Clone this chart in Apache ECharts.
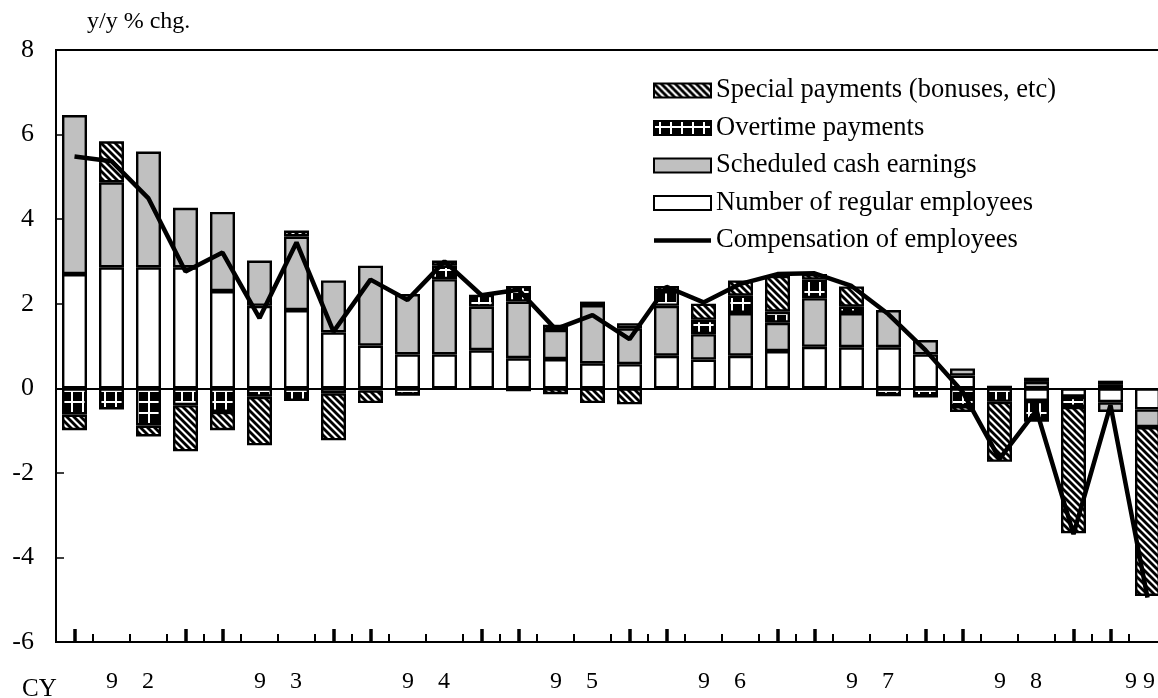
<!DOCTYPE html>
<html>
<head>
<meta charset="utf-8">
<script src="https://cdn.jsdelivr.net/npm/echarts@6/dist/echarts.min.js"></script>
<style>
html, body { margin: 0; padding: 0; background: #fff; }
#chart { width: 1158px; height: 698px; }
</style>
</head>
<body>
<div id="chart"></div>
<script>
// quarters, CY1992 Q1 .. CY1999 Q2
const quarters = ['92Q1', '92Q2', '92Q3', '92Q4', '93Q1', '93Q2', '93Q3', '93Q4',
    '94Q1', '94Q2', '94Q3', '94Q4', '95Q1', '95Q2', '95Q3', '95Q4',
    '96Q1', '96Q2', '96Q3', '96Q4', '97Q1', '97Q2', '97Q3', '97Q4',
    '98Q1', '98Q2', '98Q3', '98Q4', '99Q1', '99Q2'];

const employees = [2.70, 2.86, 2.86, 2.86, 2.30, 1.95, 1.85, 1.32, 1.01, 0.80, 0.80, 0.90, 0.71, 0.69, 0.59,
    0.57, 0.77, 0.68, 0.77, 0.88, 0.98, 0.97, 0.97, 0.80, 0.30, 0.00, -0.30, -0.20, -0.33, -0.50];
const scheduled = [3.76, 2.01, 2.74, 1.41, 1.87, 1.07, 1.74, 1.23, 1.89, 1.43, 1.78, 1.03, 1.34, 0.69, 1.38,
    0.85, 1.18, 0.60, 1.01, 0.67, 1.15, 0.81, 0.88, 0.34, 0.17, 0.06, 0.15, 0.00, -0.23, -0.42];
const overtime = [-0.62, -0.50, -0.88, -0.40, -0.56, -0.20, -0.30, -0.12, -0.05, -0.15, 0.32, 0.28, 0.37, 0.12, 0.08,
    0.12, 0.35, 0.34, 0.41, 0.26, 0.44, 0.15, -0.16, -0.19, -0.42, -0.32, -0.49, -0.24, 0.08, 0.00];
const special = [-0.37, 0.97, -0.26, -1.09, -0.43, -1.15, 0.14, -1.11, -0.30, 0.00, 0.12, -0.03, -0.07, -0.14, -0.35,
    -0.38, 0.12, 0.38, 0.36, 0.85, 0.13, 0.48, 0.00, 0.00, -0.14, -1.42, 0.10, -2.99, 0.10, -3.99];
const compensation = [5.48, 5.37, 4.49, 2.76, 3.21, 1.66, 3.45, 1.34, 2.57, 2.09, 3.00, 2.20, 2.33, 1.40, 1.73,
    1.16, 2.40, 2.03, 2.47, 2.70, 2.72, 2.42, 1.75, 0.90, -0.08, -1.67, -0.52, -3.45, -0.40, -4.95];

// year labels under the axis, placed at the middle of each year's quarters
const yearLabels = ['9    2', '9    3', '9    4', '9    5', '9    6', '9    7', '9    8', '9 9'];
const yearPos = [1.5, 5.5, 9.5, 13.5, 17.5, 21.5, 25.5, 28.8];

const FONT = "'Liberation Serif', 'DejaVu Serif', serif";

function stripes() {
    const s = 7;
    const c = document.createElement('canvas');
    c.width = c.height = s;
    const g = c.getContext('2d');
    g.fillStyle = '#fff';
    g.fillRect(0, 0, s, s);
    g.strokeStyle = '#000';
    g.lineWidth = 2.8;
    for (let k = -1; k <= 1; k++) {
        g.beginPath();
        g.moveTo(k * s - 1, -1);
        g.lineTo(k * s + s + 1, s + 1);
        g.stroke();
    }
    return { image: c, repeat: 'repeat' };
}

function checks() {
    const s = 11;
    const c = document.createElement('canvas');
    c.width = c.height = s;
    const g = c.getContext('2d');
    g.fillStyle = '#000';
    g.fillRect(0, 0, s, s);
    g.fillStyle = '#fff';
    g.fillRect(0, 5, s, 2);
    g.fillRect(5, 0, 2, s);
    return { image: c, repeat: 'repeat' };
}

function barSeries(name, data, color) {
    return {
        name: name,
        type: 'bar',
        stack: 'total',
        barWidth: 25,
        data: data,
        itemStyle: { color: color, borderColor: '#000', borderWidth: 2.4 },
        emphasis: { disabled: true }
    };
}

const chart = echarts.init(document.getElementById('chart'));
chart.setOption({
    animation: false,
    textStyle: { fontFamily: FONT, color: '#000' },
    title: {
        text: 'CY', left: 17, top: 672,
        textStyle: { fontFamily: FONT, fontSize: 25, fontWeight: 'normal', color: '#000' }
    },
    grid: {
        left: 56, top: 50, width: 1110, height: 592,
        outerBoundsMode: 'none', containLabel: false,
        show: true, borderColor: '#000', borderWidth: 2
    },
    legend: {
        orient: 'vertical',
        left: 648,
        top: 72,
        padding: 5,
        itemWidth: 57,
        itemHeight: 14,
        itemGap: 10.5,
        selectedMode: false,
        textStyle: { fontFamily: FONT, fontSize: 26.5, color: '#000' },
        data: [
            { name: 'Special payments (bonuses, etc)', icon: 'rect' },
            { name: 'Overtime payments', icon: 'rect' },
            { name: 'Scheduled cash earnings', icon: 'rect' },
            { name: 'Number of regular employees', icon: 'rect' },
            { name: 'Compensation of employees', icon: 'path://M0,0L57,0L57,4.5L0,4.5Z', itemStyle: { color: '#000', borderWidth: 0 } }
        ]
    },
    xAxis: [
        {   // zero line
            type: 'category', data: quarters, position: 'bottom',
            axisLine: { onZero: true, lineStyle: { color: '#000', width: 2 } },
            axisTick: { show: false }, axisLabel: { show: false }
        },
        {   // bottom frame with small ticks between quarters
            type: 'category', data: quarters, position: 'bottom',
            axisLine: { onZero: false, lineStyle: { color: '#000', width: 2 } },
            axisTick: { show: true, inside: true, interval: 0, length: 8, lineStyle: { color: '#000', width: 2 } },
            axisLabel: { show: false }
        },
        {   // bold ticks at Q1 and Q4
            type: 'category', data: quarters, position: 'bottom',
            axisLine: { show: false, onZero: false },
            axisTick: {
                show: true, inside: true, alignWithLabel: true, length: 13,
                interval: function (i) { return i % 4 === 0 || i % 4 === 3; },
                lineStyle: { color: '#000', width: 3.5 }
            },
            axisLabel: { show: false }
        },
        {   // year labels
            type: 'value', min: -0.5, max: 29.5, position: 'bottom',
            axisLine: { show: false, onZero: false },
            axisTick: { show: false },
            splitLine: { show: false },
            axisLabel: {
                customValues: yearPos,
                margin: 28,
                fontSize: 24,
                fontFamily: FONT,
                color: '#000',
                formatter: function (v) {
                    const i = yearPos.findIndex(function (p) { return Math.abs(p - v) < 1e-6; });
                    return i >= 0 ? yearLabels[i] : '';
                }
            }
        }
    ],
    yAxis: {
        type: 'value', min: -6, max: 8, interval: 2,
        axisLine: { show: true, onZero: false, lineStyle: { color: '#000', width: 2 } },
        axisTick: { show: true, inside: true, length: 8, lineStyle: { color: '#000', width: 1.5 } },
        splitLine: { show: false },
        axisLabel: { fontSize: 26, fontFamily: FONT, color: '#000', margin: 22 },
        name: 'y/y % chg.',
        nameLocation: 'end',
        nameGap: 28,
        nameTextStyle: { fontSize: 24, fontFamily: FONT, color: '#000', align: 'left', verticalAlign: 'middle', padding: [0, 0, 0, 31] }
    },
    series: [
        barSeries('Number of regular employees', employees, '#fff'),
        barSeries('Scheduled cash earnings', scheduled, '#c0c0c0'),
        barSeries('Overtime payments', overtime, checks()),
        barSeries('Special payments (bonuses, etc)', special, stripes()),
        {
            name: 'Compensation of employees',
            type: 'line',
            data: compensation,
            symbol: 'none',
            z: 5,
            lineStyle: { color: '#000', width: 4.5 },
            itemStyle: { color: '#000' },
            emphasis: { disabled: true }
        }
    ]
});
</script>
</body>
</html>
